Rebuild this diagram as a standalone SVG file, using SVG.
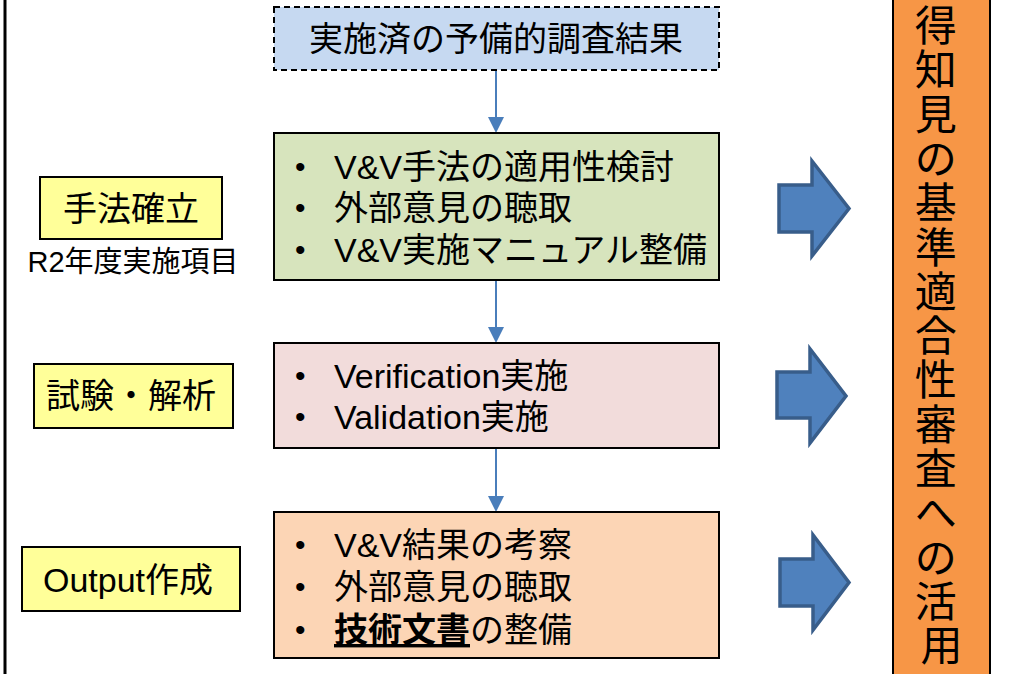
<svg xmlns="http://www.w3.org/2000/svg" width="1013" height="674" viewBox="0 0 1013 674">
  <defs>
    <style>
      text { font-family: "Liberation Sans", "Noto Sans CJK JP", sans-serif; fill: #000; }
      .box { stroke: #000; stroke-width: 2; }
      .item { font-size: 34px; }
      .bullet { font-size: 30px; }
      .label { font-size: 34px; text-anchor: middle; }
      .flow { stroke: #4A7EBB; stroke-width: 2; fill: none; }
      .tip { fill: #4A7EBB; }
      .big { fill: #4F81BD; stroke: #385D8A; stroke-width: 3.5; stroke-linejoin: miter; }
    </style>
  </defs>

  <!-- left frame edge -->
  <line x1="5" y1="0" x2="5" y2="674" stroke="#000" stroke-width="3"/>

  <!-- vertical flow connectors -->
  <g id="connectors">
    <line class="flow" x1="496" y1="70" x2="496" y2="118"/>
    <path class="tip" d="M488,117 L504,117 L496,133 Z"/>
    <line class="flow" x1="496" y1="280" x2="496" y2="328"/>
    <path class="tip" d="M488,327 L504,327 L496,343 Z"/>
    <line class="flow" x1="496" y1="448" x2="496" y2="497"/>
    <path class="tip" d="M488,496 L504,496 L496,512 Z"/>
  </g>

  <!-- prior survey results -->
  <g id="prior">
    <rect x="274" y="7" width="445" height="63" fill="#C6D9F1" stroke="#000" stroke-width="2" stroke-dasharray="6,4"/>
    <text x="496" y="51" font-size="34" text-anchor="middle">実施済の予備的調査結果</text>
  </g>

  <!-- method establishment -->
  <g id="method">
    <rect class="box" x="274" y="133" width="445" height="147" fill="#D7E4BD"/>
    <text class="bullet" x="295" y="177">•</text>
    <text class="item" x="334" y="179">V&amp;V手法の適用性検討</text>
    <text class="bullet" x="295" y="218">•</text>
    <text class="item" x="334" y="220">外部意見の聴取</text>
    <text class="bullet" x="295" y="260">•</text>
    <text class="item" x="334" y="262">V&amp;V実施マニュアル整備</text>
  </g>

  <!-- tests and analysis -->
  <g id="tests">
    <rect class="box" x="274" y="343" width="445" height="105" fill="#F2DCDB"/>
    <text class="bullet" x="295" y="386">•</text>
    <text class="item" x="334" y="388">Verification実施</text>
    <text class="bullet" x="295" y="427">•</text>
    <text class="item" x="334" y="429">Validation実施</text>
  </g>

  <!-- output -->
  <g id="output">
    <rect class="box" x="274" y="512" width="445" height="146" fill="#FCD5B5"/>
    <text class="bullet" x="295" y="555">•</text>
    <text class="item" x="334" y="557">V&amp;V結果の考察</text>
    <text class="bullet" x="295" y="597">•</text>
    <text class="item" x="334" y="599">外部意見の聴取</text>
    <text class="bullet" x="295" y="640">•</text>
    <text class="item" x="334" y="642"><tspan font-weight="bold" text-decoration="underline">技術文書</tspan>の整備</text>
  </g>

  <!-- phase labels -->
  <g id="label-method">
    <rect class="box" x="40" y="177" width="182" height="62" fill="#FFFF99"/>
    <text class="label" x="131" y="221">手法確立</text>
  </g>
  <g id="label-year">
    <text x="133" y="272" font-size="29" text-anchor="middle">R2年度実施項目</text>
  </g>
  <g id="label-tests">
    <rect class="box" x="34" y="364" width="199" height="64" fill="#FFFF99"/>
    <text class="label" x="131" y="408" font-size="31">試験・解析</text>
  </g>
  <g id="label-output">
    <rect class="box" x="22" y="547" width="218" height="64" fill="#FFFF99"/>
    <text class="label" x="128" y="592">Output作成</text>
  </g>

  <!-- block arrows toward the review column -->
  <g id="arrow-1">
    <path class="big" d="M779,185 L812,185 L812,161 L849,208.5 L812,256 L812,232 L779,232 Z"/>
  </g>
  <g id="arrow-2">
    <path class="big" d="M777,372 L810,372 L810,349 L846,396 L810,443 L810,418 L777,418 Z"/>
  </g>
  <g id="arrow-3">
    <path class="big" d="M780,559 L813,559 L813,535 L849,582.5 L813,630 L813,606 L780,606 Z"/>
  </g>

  <!-- review column -->
  <g id="review">
    <rect x="893" y="-5" width="97" height="684" fill="#F79646" stroke="#000" stroke-width="2"/>
    <text x="941.5" y="41" font-size="42" text-anchor="middle">
      <tspan x="941.5" y="41">得</tspan>
      <tspan x="941.5" y="85.3">知</tspan>
      <tspan x="941.5" y="129.6">見</tspan>
      <tspan x="941.5" y="173.9">の</tspan>
      <tspan x="941.5" y="218.2">基</tspan>
      <tspan x="941.5" y="262.5">準</tspan>
      <tspan x="941.5" y="306.8">適</tspan>
      <tspan x="941.5" y="351.1">合</tspan>
      <tspan x="941.5" y="395.4">性</tspan>
      <tspan x="941.5" y="439.7">審</tspan>
      <tspan x="941.5" y="484">査</tspan>
      <tspan x="941.5" y="528.3">へ</tspan>
      <tspan x="941.5" y="572.6">の</tspan>
      <tspan x="941.5" y="616.9">活</tspan>
      <tspan x="941.5" y="661.2">用</tspan>
    </text>
  </g>
</svg>
